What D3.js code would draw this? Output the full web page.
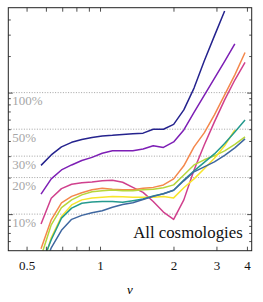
<!DOCTYPE html>
<html><head><meta charset="utf-8">
<script src="https://cdn.jsdelivr.net/npm/d3@7"></script>
<style>
html,body{margin:0;padding:0;background:#fff;}
svg{display:block;}
svg text{font-family:"Liberation Serif","DejaVu Serif",serif;}
</style></head>
<body><svg id="chart" width="263" height="302"></svg>
<script>
// ---- data (ν on x, relative error in % on y) ----
const nu = [0.573, 0.631, 0.695, 0.765, 0.842, 0.927, 1.021, 1.124, 1.238, 1.363, 1.501,
            1.652, 1.819, 2.003, 2.205, 2.428, 2.673, 2.943, 3.241, 3.568, 3.929];
const sNavy    = [25.2, 30.7, 35.8, 39.0, 41.2, 42.8, 44.0, 44.5, 45.3, 45.8, 46.4, 50.0, 50.0, 54.8, 72.1, 109, 182, 293, 470];
const sPurple  = [14.6, 19.5, 23.1, 25.4, 27.6, 29.3, 31.7, 33.2, 33.2, 33.3, 34.4, 36.5, 35.4, 39.3, 49.3, 68.7, 95.0, 131, 181, 252];
const sMagenta = [8.28, 13.5, 16.2, 17.6, 18.1, 18.4, 18.8, 19.0, 18.3, 16.6, 15.1, 12.7, 10.4, 9.06, 13.1, 23.1, 37.1, 57.4, 87.1, 127, 177];
const sOrange  = [5.18, 8.98, 12.4, 14.0, 15.0, 15.85, 16.3, 16.0, 15.85, 15.85, 16.3, 16.6, 17.4, 19.5, 25.0, 35.8, 46.6, 65.6, 95.7, 140, 214];
const sLime    = [4.46, 8.17, 11.3, 13.1, 14.4, 15.3, 15.6, 15.8, 15.6, 15.6, 15.85, 16.0, 16.5, 17.4, 21.0, 25.4, 28.0, 30.2, 33.2, 37.5, 43.2];
const sYellow  = [3.42, 6.38, 9.56, 11.9, 13.1, 13.6, 13.8, 13.95, 13.9, 13.8, 13.8, 13.75, 13.95, 13.6, 16.5, 19.5, 23.6, 28.8, 36.5, 49.4];
const sTeal    = [3.76, 6.15, 9.27, 11.2, 12.3, 12.6, 12.7, 12.7, 12.5, 12.9, 13.3, 14.1, 14.7, 15.7, 19.1, 22.7, 26.7, 31.3, 38.2, 47.5, 59.6];
const sBlue    = [3.17, 5.28, 7.36, 9.06, 9.77, 10.25, 10.65, 11.4, 12.0, 12.4, 13.2, 14.0, 14.7, 15.7, 18.8, 22.3, 24.5, 26.9, 30.4, 35.1, 41.6];
const seriesList = [sNavy, sPurple, sMagenta, sOrange, sLime, sYellow, sTeal, sBlue];
const seriesColors = ["#25238e", "#7d1fb5", "#d0408d", "#f4884c", "#b7d63a", "#f7e52c", "#259a8e", "#3f67a0"];
const gridValues = [10, 20, 30, 50, 100];
const gridLabels = ["10%", "20%", "30%", "50%", "100%"];
const xTickValues = [0.5, 0.6, 0.7, 0.8, 0.9, 1, 2, 3, 4];
const xTickLabels = {0.5: "0.5", 1: "1", 2: "2", 3: "3", 4: "4"};
const yMinor = [6, 7, 8, 9, 20, 30, 40, 50, 60, 70, 80, 90, 200, 300, 400];
const yMajor = [10, 100];
const xDomain = [0.4208, 4.184];
const yDomain = [5, 500];

// ---- layout ----
const SERIF = "Liberation Serif, DejaVu Serif, serif";
const L = 8.3, T = 7.7, W = 243.4, H = 243;
const svg = d3.select("#chart");
const x = d3.scaleLog().domain(xDomain).range([L, L + W]);
const y = d3.scaleLog().domain(yDomain).range([T + H, T]);

svg.append("defs").append("clipPath").attr("id", "clip")
  .append("rect").attr("x", L).attr("y", T).attr("width", W).attr("height", H);

// grid lines
svg.append("g").selectAll("line").data(gridValues).join("line")
  .attr("x1", L).attr("x2", L + W)
  .attr("y1", d => y(d)).attr("y2", d => y(d))
  .attr("stroke", "#8c8c8c").attr("stroke-width", 0.8).attr("stroke-dasharray", "1,1.6");
svg.append("g").selectAll("text").data(gridValues).join("text")
  .attr("x", L + 4).attr("y", d => y(d) + 12.5)
  .attr("font-family", SERIF).attr("font-size", 13).attr("fill", "#a6a6a6")
  .text((d, i) => gridLabels[i]);

// series lines
const line = d3.line().x((d, i) => x(nu[i])).y(d => y(d));
const gLines = svg.append("g").attr("clip-path", "url(#clip)");
seriesList.forEach((s, k) => {
  gLines.append("path").datum(s).attr("d", line)
    .attr("fill", "none").attr("stroke", seriesColors[k])
    .attr("stroke-width", 1.5).attr("stroke-linejoin", "round");
});

// axes (ticks inward on all sides)
const fmt = d => xTickLabels[d] || "";
const axB = d3.axisBottom(x).tickValues(xTickValues).tickSizeInner(-4).tickSizeOuter(0).tickPadding(10).tickFormat(fmt);
const axT = d3.axisTop(x).tickValues(xTickValues).tickSizeInner(-4).tickSizeOuter(0).tickFormat("");
const gB = svg.append("g").attr("transform", `translate(0,${T + H})`).call(axB);
svg.append("g").attr("transform", `translate(0,${T})`).call(axT);
function yAxes(vals, len) {
  svg.append("g").attr("transform", `translate(${L},0)`)
    .call(d3.axisLeft(y).tickValues(vals).tickSizeInner(-len).tickSizeOuter(0).tickFormat(""));
  svg.append("g").attr("transform", `translate(${L + W},0)`)
    .call(d3.axisRight(y).tickValues(vals).tickSizeInner(-len).tickSizeOuter(0).tickFormat(""));
}
yAxes(yMinor, 2.5);
yAxes(yMajor, 4.5);
svg.selectAll(".domain").remove();
svg.selectAll(".tick line").attr("stroke", "#222").attr("stroke-width", 0.8);
gB.attr("font-family", SERIF);
gB.selectAll("text").attr("font-size", 13).attr("fill", "#111").attr("font-family", SERIF);

// frame
svg.append("rect").attr("x", L).attr("y", T).attr("width", W).attr("height", H)
  .attr("fill", "none").attr("stroke", "#222").attr("stroke-width", 1);

// labels
svg.append("text").attr("x", L + W / 2).attr("y", 294).attr("text-anchor", "middle")
  .attr("font-family", SERIF).attr("font-size", 13).attr("font-style", "italic").text("ν");
svg.append("text").attr("x", L + W - 9).attr("y", 238).attr("text-anchor", "end")
  .attr("font-family", SERIF).attr("font-size", 16.8).attr("fill", "#111").text("All cosmologies");
</script></body></html>
